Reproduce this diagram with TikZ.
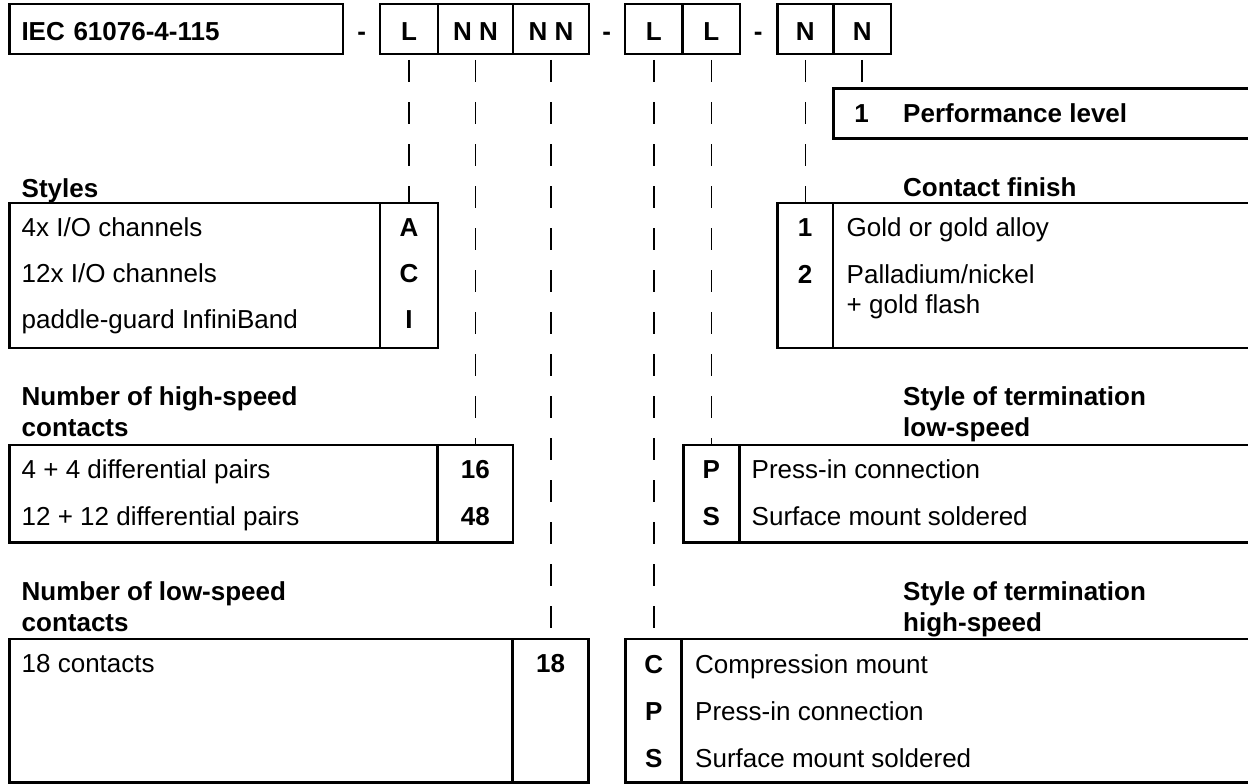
\documentclass[tikz,border=0pt]{standalone}
\usepackage{fontspec}
\setmainfont{Liberation Sans}
\usetikzlibrary{positioning}
\newcommand{\diagfont}{\fontsize{26}{31}\selectfont}

\begin{document}
\begin{tikzpicture}[
      x=1pt, y=-1pt,
      box/.style={draw, line width=2.5pt, inner sep=0pt, outer sep=0pt, anchor=north west},
      cell/.style={box, minimum height=50pt, text height=24pt, text depth=0pt,
      font=\diagfont\bfseries},
      txt/.style={anchor=base west, inner sep=0pt, font=\diagfont},
      head/.style={txt, font=\diagfont\bfseries},
      code/.style={anchor=base, inner sep=0pt, font=\diagfont\bfseries},
      link/.style={draw, line width=1.5pt, dash pattern=on 22pt off 20pt, dash phase=36pt}
    ]
    \useasboundingbox (0,0) rectangle (1248,784);
    \clip (0,0) rectangle (1248,784);

    % Designation header
    \node [cell, text width=309.5pt, inner xsep=12pt, align=left] (hdr) at (9.5,4) {IEC 61076-4-115};
    \node [code] (sep1) at (361.7,41) {-};
    \node [cell, minimum width=58pt] (hL) at (380,4) {L};
    \node [cell, minimum width=75pt, right=0pt of hL] (hN1) {N N};
    \node [cell, minimum width=76pt, right=0pt of hN1] (hN2) {N N};
    \node [code] (sep2) at (606.7,41) {-};
    \node [cell, minimum width=57.5pt] (hL1) at (625,4) {L};
    \node [cell, minimum width=57.5pt, right=0pt of hL1] (hL2) {L};
    \node [code] (sep3) at (758.3,41) {-};
    \node [cell, minimum width=56pt] (hF) at (777.3,4) {N};
    \node [cell, minimum width=57.7pt, right=0pt of hF] (hP) {N};

    % Performance level
    \node [box, minimum width=430pt, minimum height=50pt] (perf) at (833.3,88.3) {};
    \node [code] (perfN) at (861.7,122.5) {1};
    \node [head] (perfT) at (903,122.5) {Performance level};

    % Styles
    \node [head] (styH) at (21.5,197) {Styles};
    \node [box, minimum width=370.5pt, minimum height=145pt] (styD) at (9.5,203) {};
    \node [box, minimum width=58pt, minimum height=145pt, right=0pt of styD] (styC) {};
    \node [txt] (styR1) at (21.5,236.5) {4x I/O channels};
    \node [txt] (styR2) at (21.5,282.5) {12x I/O channels};
    \node [txt] (styR3) at (21.5,328.5) {paddle-guard InfiniBand};
    \node [code] (styA) at (styC |- styR1.base) {A};
    \node [code] (styCc) at (styC |- styR2.base) {C};
    \node [code] (styI) at (styC |- styR3.base) {I};

    % Contact finish
    \node [head] (cfH) at (903,196.5) {Contact finish};
    \node [box, minimum width=55.7pt, minimum height=145pt] (cfC) at (777.3,203) {};
    \node [box, minimum width=430pt, minimum height=145pt, right=0pt of cfC] (cfD) {};
    \node [txt] (cfR1) at (846.5,236.5) {Gold or gold alloy};
    \node [txt] (cfR2) at (846.5,283) {Palladium/nickel};
    \node [txt] (cfR2b) at (846.5,313.5) {+ gold flash};
    \node [code] (cf1) at (cfC |- cfR1.base) {1};
    \node [code] (cf2) at (cfC |- cfR2.base) {2};

    % Number of high-speed contacts
    \node [head] (hsH1) at (21.5,405.5) {Number of high-speed};
    \node [head] (hsH2) at (21.5,436.5) {contacts};
    \node [box, minimum width=428pt, minimum height=97.3pt] (hsD) at (9.5,445) {};
    \node [box, minimum width=75.5pt, minimum height=97.3pt, right=0pt of hsD] (hsC) {};
    \node [txt] (hsR1) at (21.5,478.5) {4 + 4 differential pairs};
    \node [txt] (hsR2) at (21.5,525) {12 + 12 differential pairs};
    \node [code] (hs16) at (hsC |- hsR1.base) {16};
    \node [code] (hs48) at (hsC |- hsR2.base) {48};

    % Style of termination low-speed
    \node [head] (ltH1) at (903,405.5) {Style of termination};
    \node [head] (ltH2) at (903,436.5) {low-speed};
    \node [box, minimum width=56.2pt, minimum height=97.3pt] (ltC) at (683.3,445) {};
    \node [box, minimum width=530pt, minimum height=97.3pt, right=0pt of ltC] (ltD) {};
    \node [txt] (ltR1) at (751.5,478.5) {Press-in connection};
    \node [txt] (ltR2) at (751.5,525) {Surface mount soldered};
    \node [code] (ltP) at (ltC |- ltR1.base) {P};
    \node [code] (ltS) at (ltC |- ltR2.base) {S};

    % Number of low-speed contacts
    \node [head] (lsH1) at (21.5,600) {Number of low-speed};
    \node [head] (lsH2) at (21.5,631.5) {contacts};
    \node [box, minimum width=503pt, minimum height=143.5pt] (lsD) at (9.5,639) {};
    \node [box, minimum width=76pt, minimum height=143.5pt, right=0pt of lsD] (lsC) {};
    \node [txt] (lsR1) at (21.5,672) {18 contacts};
    \node [code] (ls18) at (lsC |- lsR1.base) {18};

    % Style of termination high-speed
    \node [head] (htH1) at (903,600) {Style of termination};
    \node [head] (htH2) at (903,631.5) {high-speed};
    \node [box, minimum width=56pt, minimum height=143.5pt] (htC) at (625.7,639) {};
    \node [box, minimum width=580pt, minimum height=143.5pt, right=0pt of htC] (htD) {};
    \node [txt] (htR1) at (695,673) {Compression mount};
    \node [txt] (htR2) at (695,720) {Press-in connection};
    \node [txt] (htR3) at (695,767) {Surface mount soldered};
    \node [code] (htCc) at (htC |- htR1.base) {C};
    \node [code] (htP) at (htC |- htR2.base) {P};
    \node [code] (htS) at (htC |- htR3.base) {S};

    % Links
    \path [link] (hL.south) -- (hL.south |- styC.north);
    \path [link] (hN1.south) -- (hN1.south |- hsC.north);
    \path [link] (hN2.south) -- (hN2.south |- lsC.north);
    \path [link] (hL1.south) -- (hL1.south |- htC.north);
    \path [link] (hL2.south) -- (hL2.south |- ltC.north);
    \path [link] (hF.south) -- (hF.south |- cfC.north);
    \path [link] (hP.south) -- (hP.south |- perf.north);
  \end{tikzpicture}
\end{document}
